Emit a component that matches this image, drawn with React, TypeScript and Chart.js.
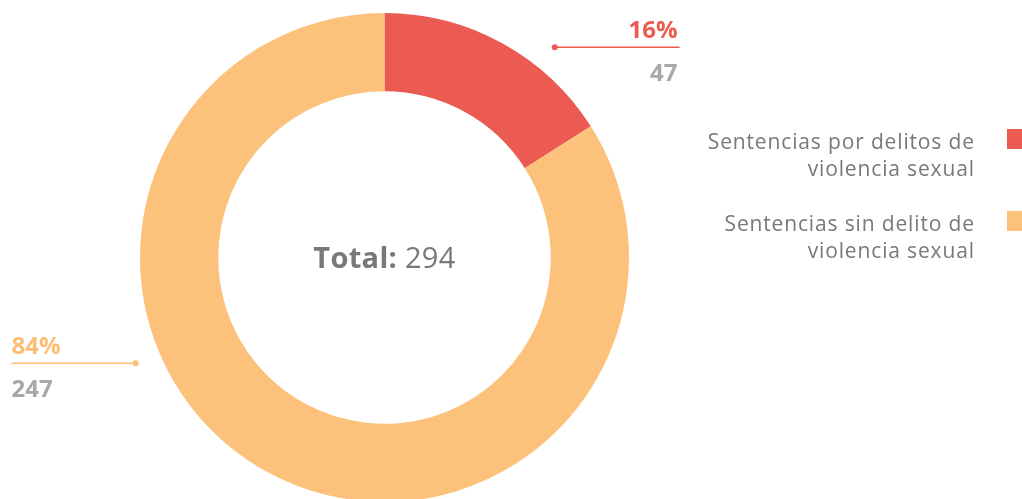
import React, { useEffect, useRef } from "react";
import { Chart, registerables } from "chart.js";

Chart.register(...registerables);

const categories: string[][] = [
  ["Sentencias por delitos de", "violencia sexual"],
  ["Sentencias sin delito de", "violencia sexual"],
];
const values: number[] = [47, 247];
const percentLabels: string[] = ["16%", "84%"];
const totalLabel = "Total:";

const COLORS = ["#EB5B51", "#FCC27B"];
const LABEL_COLORS = ["#EB5B51", "#FCBE74"];
const TEXT_GRAY = "#77787B";
const NUM_GRAY = "#A7A8AB";
const FONT = '"Open Sans", sans-serif';

const overlayPlugin = {
  id: "overlay",
  afterDraw(chart: any) {
    const ctx = chart.ctx as CanvasRenderingContext2D & { letterSpacing?: string };
    const meta = chart.getDatasetMeta(0);
    const arc = meta.data[0] as any;
    const cx = arc.x;
    const cy = arc.y;
    const R = arc.outerRadius;
    const total = values.reduce((a, b) => a + b, 0);

    ctx.save();
    // center text
    ctx.textBaseline = "alphabetic";
    ctx.letterSpacing = "0.3px";
    ctx.font = `bold 29px ${FONT}`;
    const wT = ctx.measureText(totalLabel + " ").width;
    ctx.font = `29px ${FONT}`;
    const wN = ctx.measureText(String(total)).width;
    const startX = cx - (wT + wN) / 2;
    ctx.textAlign = "left";
    ctx.fillStyle = TEXT_GRAY;
    ctx.font = `bold 29px ${FONT}`;
    ctx.fillText(totalLabel, startX, cy + 10);
    ctx.font = `29px ${FONT}`;
    ctx.fillText(String(total), startX + wT, cy + 10);
    ctx.letterSpacing = "0px";

    // callouts
    const callouts = [
      { angle: 39, side: 1, endX: cx + 295 },
      { angle: 247, side: -1, endX: cx - 373 },
    ];
    callouts.forEach((c, i) => {
      const a = (c.angle * Math.PI) / 180;
      const dx = cx + Math.sin(a) * (R + 26);
      const dy = cy - Math.cos(a) * (R + 26);
      ctx.strokeStyle = LABEL_COLORS[i];
      ctx.fillStyle = LABEL_COLORS[i];
      ctx.lineWidth = 1.5;
      ctx.beginPath();
      ctx.moveTo(dx, dy);
      ctx.lineTo(c.endX, dy);
      ctx.stroke();
      ctx.beginPath();
      ctx.arc(dx, dy, 3, 0, Math.PI * 2);
      ctx.fill();
      const tx = c.side > 0 ? c.endX - 2 : c.endX;
      ctx.textAlign = c.side > 0 ? "right" : "left";
      ctx.font = `bold 24px ${FONT}`;
      ctx.fillText(percentLabels[i], tx, dy - 9);
      ctx.fillStyle = NUM_GRAY;
      ctx.fillText(String(values[i]), tx, dy + 34);
    });

    // legend
    const legendRight = 974;
    const boxX = 1007;
    const legendTop = [149, 231];
    const ls = 0.85;
    ctx.letterSpacing = `${ls}px`;
    categories.forEach((lines, i) => {
      const base = legendTop[i];
      ctx.fillStyle = COLORS[i];
      ctx.fillRect(boxX, base - 20, 20, 20);
      ctx.fillStyle = TEXT_GRAY;
      ctx.textAlign = "left";
      ctx.font = `21px ${FONT}`;
      lines.forEach((ln, j) => {
        const w = ctx.measureText(ln).width - ls;
        ctx.fillText(ln, legendRight - w, base + j * 26.5);
      });
    });
    ctx.restore();
  },
};

export default function App() {
  const ref = useRef<HTMLCanvasElement>(null);
  useEffect(() => {
    if (!ref.current) return;
    const chart = new Chart(ref.current, {
      type: "doughnut",
      data: {
        labels: categories.map((c) => c.join(" ")),
        datasets: [
          {
            data: values,
            backgroundColor: COLORS,
            borderWidth: 0,
          },
        ],
      },
      options: {
        responsive: false,
        animation: false,
        cutout: "68%",
        layout: { padding: { top: 13, left: 140, right: 393, bottom: 0 } },
        plugins: {
          legend: { display: false },
          tooltip: { enabled: false },
        },
      },
      plugins: [overlayPlugin],
    });
    return () => chart.destroy();
  }, []);
  return (
    <div
      style={{
        position: "fixed",
        left: 0,
        top: 0,
        width: 1022,
        height: 499,
        overflow: "hidden",
        background: "#fff",
      }}
    >
      <canvas ref={ref} width={1022} height={502} style={{ display: "block" }} />
    </div>
  );
}
